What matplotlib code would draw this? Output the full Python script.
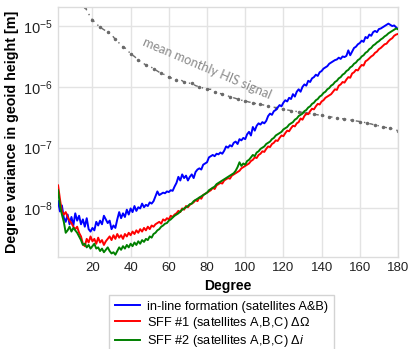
#!/usr/bin/env python3
"""
Degree variances in geoid height: in-line formation vs SFF formations
"""

import numpy as np
import matplotlib
matplotlib.use('Agg')
import matplotlib.pyplot as plt

plt.rcParams['font.family'] = ['Liberation Sans', 'DejaVu Sans']
plt.rcParams['mathtext.fontset'] = 'custom'
plt.rcParams['mathtext.rm'] = 'Liberation Sans'
plt.rcParams['mathtext.it'] = 'Liberation Sans:italic'
plt.rcParams['mathtext.bf'] = 'Liberation Sans:bold'

# spherical harmonic degrees 2..180
degree = np.arange(2, 181)

# log10 of degree variance [m]
inline_log = [
    -7.88, -8.05, -7.95, -8.15, -8.22, -8.10, -8.26, -8.14, -8.28, -8.08,
    -8.20, -8.12, -8.26, -8.18, -8.30, -8.16, -8.34, -8.38, -8.32, -8.36,
    -8.22, -8.28, -8.20, -8.26, -8.12, -8.18, -8.24, -8.20, -8.34, -8.28,
    -8.32, -8.18, -8.06, -8.16, -8.08, -8.14, -8.02, -8.10, -8.00, -8.06,
    -7.96, -8.04, -7.98, -8.00, -7.92, -7.98, -7.94, -7.96, -7.90, -7.92,
    -7.88, -7.80, -7.72, -7.78, -7.76, -7.74, -7.75, -7.72, -7.73, -7.70,
    -7.71, -7.64, -7.58, -7.48, -7.54, -7.44, -7.50, -7.46, -7.54, -7.48,
    -7.44, -7.50, -7.40, -7.36, -7.34, -7.36, -7.28, -7.26, -7.24, -7.16,
    -7.14, -7.12, -7.14, -7.10, -7.11, -7.08, -7.10, -7.05, -6.98, -7.00,
    -6.96, -6.98, -6.92, -6.90, -6.94, -6.86, -6.88, -6.84, -6.86, -6.78,
    -6.74, -6.80, -6.66, -6.72, -6.64, -6.60, -6.62, -6.58, -6.60, -6.56,
    -6.48, -6.44, -6.46, -6.40, -6.38, -6.34, -6.30, -6.32, -6.26, -6.22,
    -6.24, -6.18, -6.20, -6.12, -6.16, -6.08, -6.04, -6.08, -6.00, -5.96,
    -5.98, -5.90, -5.92, -5.86, -5.84, -5.80, -5.82, -5.76, -5.74, -5.70,
    -5.68, -5.66, -5.62, -5.60, -5.58, -5.56, -5.55, -5.52, -5.54, -5.50,
    -5.51, -5.49, -5.40, -5.48, -5.42, -5.36, -5.34, -5.30, -5.28, -5.24,
    -5.26, -5.18, -5.20, -5.14, -5.16, -5.10, -5.08, -5.10, -5.05, -5.04,
    -5.02, -5.00, -4.98, -4.96, -4.98, -5.00, -4.99, -5.02, -5.05,
]

sff1_log = [
    -7.62, -7.85, -8.05, -8.10, -8.06, -8.14, -8.20, -8.24, -8.30, -8.34,
    -8.30, -8.40, -8.46, -8.58, -8.62, -8.50, -8.56, -8.46, -8.54, -8.50,
    -8.58, -8.48, -8.56, -8.52, -8.60, -8.54, -8.50, -8.46, -8.52, -8.44,
    -8.50, -8.42, -8.48, -8.44, -8.50, -8.42, -8.46, -8.40, -8.44, -8.38,
    -8.42, -8.36, -8.40, -8.34, -8.38, -8.32, -8.36, -8.30, -8.34, -8.28,
    -8.30, -8.26, -8.24, -8.22, -8.25, -8.18, -8.20, -8.16, -8.18, -8.12,
    -8.14, -8.10, -8.08, -8.04, -8.06, -8.00, -8.02, -7.96, -7.98, -7.94,
    -7.92, -7.90, -7.86, -7.88, -7.82, -7.84, -7.78, -7.76, -7.74, -7.72,
    -7.70, -7.66, -7.68, -7.62, -7.60, -7.58, -7.59, -7.54, -7.52, -7.50,
    -7.51, -7.46, -7.44, -7.42, -7.40, -7.38, -7.34, -7.32, -7.30, -7.28,
    -7.26, -7.22, -7.20, -7.16, -7.17, -7.12, -7.10, -7.06, -7.07, -7.02,
    -6.98, -6.99, -6.94, -6.92, -6.88, -6.89, -6.84, -6.80, -6.81, -6.76,
    -6.72, -6.73, -6.68, -6.64, -6.65, -6.60, -6.58, -6.52, -6.54, -6.48,
    -6.44, -6.45, -6.40, -6.36, -6.37, -6.32, -6.28, -6.29, -6.24, -6.22,
    -6.18, -6.16, -6.14, -6.12, -6.08, -6.04, -6.05, -5.98, -5.96, -5.92,
    -5.93, -5.88, -5.84, -5.85, -5.78, -5.76, -5.72, -5.73, -5.68, -5.64,
    -5.65, -5.58, -5.56, -5.53, -5.50, -5.48, -5.44, -5.42, -5.38, -5.36,
    -5.33, -5.30, -5.29, -5.25, -5.22, -5.20, -5.16, -5.14, -5.13,
]

sff2_log = [
    -7.70, -7.95, -8.10, -8.22, -8.40, -8.36, -8.30, -8.38, -8.32, -8.36,
    -8.40, -8.46, -8.52, -8.60, -8.58, -8.64, -8.60, -8.66, -8.62, -8.58,
    -8.66, -8.64, -8.70, -8.66, -8.72, -8.68, -8.64, -8.70, -8.74, -8.72,
    -8.76, -8.70, -8.64, -8.68, -8.62, -8.66, -8.60, -8.64, -8.58, -8.62,
    -8.56, -8.60, -8.54, -8.58, -8.52, -8.55, -8.50, -8.52, -8.46, -8.48,
    -8.42, -8.40, -8.36, -8.34, -8.30, -8.28, -8.25, -8.24, -8.20, -8.18,
    -8.15, -8.12, -8.10, -8.08, -8.05, -8.02, -8.00, -7.98, -7.96, -7.93,
    -7.92, -7.88, -7.86, -7.84, -7.82, -7.80, -7.78, -7.76, -7.74, -7.70,
    -7.68, -7.66, -7.64, -7.60, -7.58, -7.56, -7.54, -7.52, -7.50, -7.48,
    -7.46, -7.44, -7.42, -7.38, -7.32, -7.24, -7.30, -7.26, -7.28, -7.22,
    -7.20, -7.16, -7.12, -7.14, -7.08, -7.06, -7.02, -7.00, -6.98, -6.94,
    -6.92, -6.90, -6.86, -6.84, -6.80, -6.78, -6.76, -6.74, -6.70, -6.68,
    -6.66, -6.62, -6.60, -6.58, -6.54, -6.52, -6.48, -6.46, -6.44, -6.40,
    -6.38, -6.34, -6.32, -6.28, -6.26, -6.22, -6.20, -6.16, -6.14, -6.10,
    -6.08, -6.04, -6.02, -5.98, -5.96, -5.92, -5.90, -5.86, -5.84, -5.80,
    -5.78, -5.74, -5.72, -5.68, -5.66, -5.62, -5.60, -5.56, -5.54, -5.50,
    -5.48, -5.44, -5.42, -5.38, -5.36, -5.32, -5.30, -5.27, -5.25, -5.22,
    -5.20, -5.17, -5.15, -5.12, -5.10, -5.08, -5.06, -5.04, -5.05,
]

# mean monthly HIS signal (every second degree from 16)
his_degree = np.arange(16, 181, 2)
his_log = [
    -4.68, -4.80, -4.90, -4.96, -5.02, -5.06, -5.10, -5.14, -5.22, -5.28,
    -5.34, -5.38, -5.46, -5.50, -5.56, -5.60, -5.64, -5.66, -5.70, -5.74,
    -5.78, -5.80, -5.84, -5.86, -5.88, -5.88, -5.92, -5.94, -5.94, -5.98,
    -6.00, -6.02, -6.04, -6.04, -6.08, -6.10, -6.12, -6.14, -6.16, -6.18,
    -6.20, -6.22, -6.23, -6.25, -6.26, -6.28, -6.29, -6.30, -6.32, -6.33,
    -6.34, -6.35, -6.37, -6.38, -6.39, -6.40, -6.41, -6.42, -6.43, -6.44,
    -6.45, -6.46, -6.47, -6.48, -6.49, -6.50, -6.51, -6.52, -6.53, -6.54,
    -6.55, -6.56, -6.57, -6.58, -6.60, -6.61, -6.63, -6.64, -6.66, -6.67,
    -6.68, -6.70, -6.72,
]

labels = ['in-line formation (satellites A&B)',
          r'SFF #1 (satellites A,B,C) $\mathit{\Delta\Omega}$',
          r'SFF #2 (satellites A,B,C) $\mathit{\Delta i}$']
colors = ['#0000ff', '#ff0000', '#008000']

fig = plt.figure(figsize=(4.09, 3.49), dpi=100)
ax = fig.add_axes([0.142, 0.264, 0.831, 0.715])

ax.plot(his_degree, 10 ** np.array(his_log), color='#6a6a6a',
        linestyle=(0, (3, 3, 1, 3)), linewidth=1.0,
        marker='.', markersize=3, markevery=2, zorder=2)

for vals, lab, col in zip([inline_log, sff1_log, sff2_log], labels, colors):
    ax.plot(degree, 10 ** np.array(vals), color=col, linewidth=1.4,
            label=lab, zorder=3)

ax.text(80, 10 ** -5.70, 'mean monthly HIS signal', rotation=-23,
        ha='center', va='center', fontsize=9.2, color='#8a8a8a',
        family=['Lato', 'DejaVu Sans'])

ax.set_yscale('log')
ax.set_xlim(2, 180)
ax.set_ylim(10 ** -8.796, 10 ** -4.692)
ax.set_xticks(np.arange(20, 181, 20))
ax.set_yticks([1e-8, 1e-7, 1e-6, 1e-5])
ax.minorticks_off()
ax.tick_params(length=0, labelsize=9.5, colors='#222222', pad=4)
ax.tick_params(axis='y', labelsize=10.5)
ax.grid(True, color='#e3e3e3', linewidth=1.0)
ax.set_axisbelow(True)
for s in ax.spines.values():
    s.set_color('#dcdcdc')
    s.set_linewidth(1.0)

ax.set_xlabel('Degree', fontsize=10, fontweight='bold', labelpad=3)
ax.set_ylabel('Degree variance in geoid height [m]', fontsize=10.3,
              fontweight='bold', labelpad=3)

leg = fig.legend(loc='upper left', bbox_to_anchor=(0.2665, 0.155),
                 fontsize=9.2, frameon=True, fancybox=False,
                 handlelength=2.0, handletextpad=0.5, labelspacing=0.18,
                 borderpad=0.45, borderaxespad=0)
leg.get_frame().set_edgecolor('#c8c8c8')
leg.get_frame().set_linewidth(1.0)

fig.savefig('out.png', dpi=100)
